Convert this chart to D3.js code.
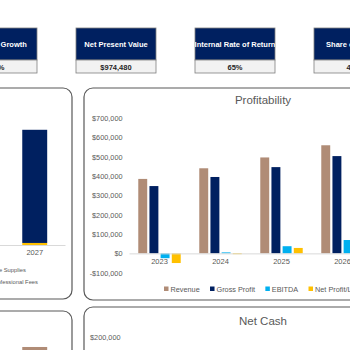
<!DOCTYPE html>
<html lang="en">
<head>
<meta charset="UTF-8">
<title>Dashboard</title>
<script src="https://d3js.org/d3.v7.min.js"></script>
<style>
  html, body { margin: 0; padding: 0; background: #fff; }
  svg { display: block; font-family: "Liberation Sans", Arial, sans-serif; }
</style>
</head>
<body>
<div id="chart"></div>
<script>
// KPI cards
var kpiTitles = ["Revenue Growth", "Net Present Value", "Internal Rate of Return", "Share of Profits"];
var kpiValues = ["14%", "$974,480", "65%", "45%"];

// profitability chart
var years = ["2023", "2024", "2025", "2026", "2027"];
var seriesNames = ["Revenue", "Gross Profit", "EBITDA", "Net Profit/Loss"];
var revenue = [385000, 440000, 496000, 559000, 620000];
var grossProfit = [348000, 395000, 446000, 503000, 560000];
var ebitda = [-25000, 5000, 37000, 69000, 105000];
var netProfit = [-50000, -4000, 28000, 55000, 85000];
var profitTicks = [-100000, 0, 100000, 200000, 300000, 400000, 500000, 600000, 700000];

// expense breakdown (left panel, only last year visible)
var expenseYears = ["2023", "2024", "2025", "2026", "2027"];
var professionalFees = [150000, 180000, 210000, 245000, 276000];
var supplies = [3000, 3500, 4000, 4500, 5000];

// lower panels
var lowerLeftYears = ["2023", "2024", "2025", "2026", "2027"];
var lowerLeftValues = [380000, 450000, 520000, 600000, 690000];
var netCashTicks = [200000, 100000, 0];

var colors = ["#b08c76", "#002060", "#00b0f0", "#ffc000"];
var W = 350, H = 350;

var svg = d3.select("#chart").append("svg")
  .attr("width", W).attr("height", H);

var fmtMoney = function(v) {
  return (v < 0 ? "-$" : "$") + d3.format(",")(Math.abs(v));
};

// ---- panels (rounded frames)
var panels = [
  {x: -200, y: 88, w: 272, h: 211},
  {x: 84, y: 88, w: 420, h: 212},
  {x: -200, y: 311, w: 272, h: 200},
  {x: 84, y: 307, w: 420, h: 200}
];
svg.selectAll(".panel").data(panels).enter().append("rect")
  .attr("class", "panel")
  .attr("x", function(d) { return d.x; })
  .attr("y", function(d) { return d.y; })
  .attr("width", function(d) { return d.w; })
  .attr("height", function(d) { return d.h; })
  .attr("rx", 9)
  .attr("fill", "#fff")
  .attr("stroke", "#595959")
  .attr("stroke-width", 1.2);

// ---- KPI cards
var cardX = d3.scaleLinear().domain([0, 1]).range([-43, 76]);
var defs = svg.append("defs");
var cards = svg.selectAll(".card").data(kpiTitles).enter().append("g")
  .attr("class", "card")
  .attr("transform", function(d, i) { return "translate(" + cardX(i) + ",28)"; });

cards.each(function(d, i) {
  defs.append("clipPath").attr("id", "cc" + i)
    .append("rect").attr("x", 0).attr("y", 0).attr("width", 80).attr("height", 45);
});

cards.append("rect")
  .attr("width", 80).attr("height", 32)
  .attr("fill", "#002060").attr("stroke", "#7f7f7f").attr("stroke-width", 0.8);
cards.append("rect")
  .attr("y", 32).attr("width", 80).attr("height", 13)
  .attr("fill", "#f2f2f2").attr("stroke", "#7f7f7f").attr("stroke-width", 0.8);
cards.append("text")
  .attr("clip-path", function(d, i) { return "url(#cc" + i + ")"; })
  .attr("x", 40).attr("y", 19)
  .attr("text-anchor", "middle")
  .attr("font-size", 7.5).attr("font-weight", "bold")
  .attr("fill", "#fff")
  .text(function(d) { return d; });
cards.append("text")
  .attr("x", 40).attr("y", 41.5)
  .attr("text-anchor", "middle")
  .attr("font-size", 7.5).attr("font-weight", "bold")
  .attr("fill", "#262626")
  .text(function(d, i) { return kpiValues[i]; });

// ---- Profitability chart
var g = svg.append("g");

var y = d3.scaleLinear().domain([-100000, 700000]).range([272.7, 118]);
var x0 = d3.scaleBand().domain(years).range([129, 129 + 61 * years.length]);
var x1 = d3.scaleBand().domain(seriesNames).range([0, x0.bandwidth()])
  .paddingInner(0.2).paddingOuter(0.83);

g.append("text")
  .attr("x", 263).attr("y", 104)
  .attr("text-anchor", "middle")
  .attr("font-size", 11.5).attr("fill", "#595959")
  .text("Profitability");

var yAxis = g.append("g")
  .attr("transform", "translate(124,0)")
  .call(d3.axisLeft(y).tickValues(profitTicks).tickSize(0).tickPadding(1.5).tickFormat(fmtMoney));
yAxis.select(".domain").remove();
yAxis.selectAll("text").attr("font-size", 7.3).attr("fill", "#595959")
  .attr("font-family", "Liberation Sans, Arial, sans-serif");

var allSeries = [revenue, grossProfit, ebitda, netProfit];
var rows = [];
years.forEach(function(yr, i) {
  seriesNames.forEach(function(s, j) {
    rows.push({year: yr, series: s, value: allSeries[j][i], color: colors[j]});
  });
});

g.selectAll(".bar").data(rows).enter().append("rect")
  .attr("class", "bar")
  .attr("x", function(d) { return x0(d.year) + x1(d.series); })
  .attr("width", x1.bandwidth())
  .attr("y", function(d) { return y(Math.max(0, d.value)); })
  .attr("height", function(d) { return Math.abs(y(d.value) - y(0)); })
  .attr("fill", function(d) { return d.color; });

var xAxis = g.append("g")
  .attr("transform", "translate(0," + y(0) + ")")
  .call(d3.axisBottom(x0).tickSize(0).tickPadding(5));
xAxis.select(".domain").attr("stroke", "#d9d9d9").attr("stroke-width", 1);
xAxis.selectAll("text").attr("font-size", 7.5).attr("fill", "#595959")
  .attr("font-family", "Liberation Sans, Arial, sans-serif");

// legend
var legend = g.append("g").attr("transform", "translate(0,289)");
var cur = 164;
seriesNames.forEach(function(s, j) {
  legend.append("rect").attr("x", cur).attr("y", -2.5)
    .attr("width", 4.5).attr("height", 4.5).attr("fill", colors[j]);
  var t = legend.append("text").attr("x", cur + 6.5).attr("y", 2.6)
    .attr("font-size", 7.3).attr("fill", "#595959").text(s);
  cur = cur + 6.5 + t.node().getComputedTextLength() + 10.3;
});

// ---- left expense chart (only 2027 visible)
var ex = d3.scaleBand().domain(expenseYears).range([-233, 65]).paddingInner(0.58).paddingOuter(0.3);
var ey = d3.scaleLinear().domain([0, 300000]).range([245, 122]);
var stack = d3.stack().keys(["supplies", "fees"])(expenseYears.map(function(yr, i) {
  return {year: yr, supplies: supplies[i], fees: professionalFees[i]};
}));
var stackColors = {supplies: "#ffc000", fees: "#002060"};
stack.forEach(function(layer) {
  svg.selectAll(".ex-" + layer.key).data(layer).enter().append("rect")
    .attr("x", function(d) { return ex(d.data.year); })
    .attr("width", ex.bandwidth())
    .attr("y", function(d) { return ey(d[1]); })
    .attr("height", function(d) { return ey(d[0]) - ey(d[1]); })
    .attr("fill", stackColors[layer.key]);
});
var exAxis = svg.append("g").attr("transform", "translate(0,245)")
  .call(d3.axisBottom(ex).tickSize(0).tickPadding(4.5));
exAxis.select(".domain").attr("stroke", "#d9d9d9");
exAxis.selectAll("text").attr("font-size", 7.5).attr("fill", "#595959")
  .attr("font-family", "Liberation Sans, Arial, sans-serif");
svg.append("text").attr("x", 26).attr("y", 272).attr("text-anchor", "end")
  .attr("font-size", 5.8).attr("fill", "#595959").text("Office Supplies");
svg.append("text").attr("x", 38).attr("y", 284).attr("text-anchor", "end")
  .attr("font-size", 5.8).attr("fill", "#595959").text("Professional Fees");

// ---- lower left chart (top of last bar visible)
var lx = d3.scaleBand().domain(lowerLeftYears).range([-233, 65]).paddingInner(0.58).paddingOuter(0.3);
var ly = d3.scaleLinear().domain([0, 700000]).range([470, 345.2]);
svg.selectAll(".ll").data(lowerLeftValues).enter().append("rect")
  .attr("class", "ll")
  .attr("x", function(d, i) { return lx(lowerLeftYears[i]); })
  .attr("width", lx.bandwidth())
  .attr("y", function(d) { return ly(d); })
  .attr("height", function(d) { return ly(0) - ly(d); })
  .attr("fill", colors[0]);

// ---- Net Cash
svg.append("text")
  .attr("x", 263).attr("y", 325)
  .attr("text-anchor", "middle")
  .attr("font-size", 11.5).attr("fill", "#595959")
  .text("Net Cash");
var ny = d3.scaleLinear().domain([0, 200000]).range([375.4, 336.7]);
var nAxis = svg.append("g").attr("transform", "translate(122,0)")
  .call(d3.axisLeft(ny).tickValues(netCashTicks).tickSize(0).tickPadding(1.5).tickFormat(fmtMoney));
nAxis.select(".domain").remove();
nAxis.selectAll("text").attr("font-size", 7.3).attr("fill", "#595959")
  .attr("font-family", "Liberation Sans, Arial, sans-serif");
</script>
</body>
</html>
